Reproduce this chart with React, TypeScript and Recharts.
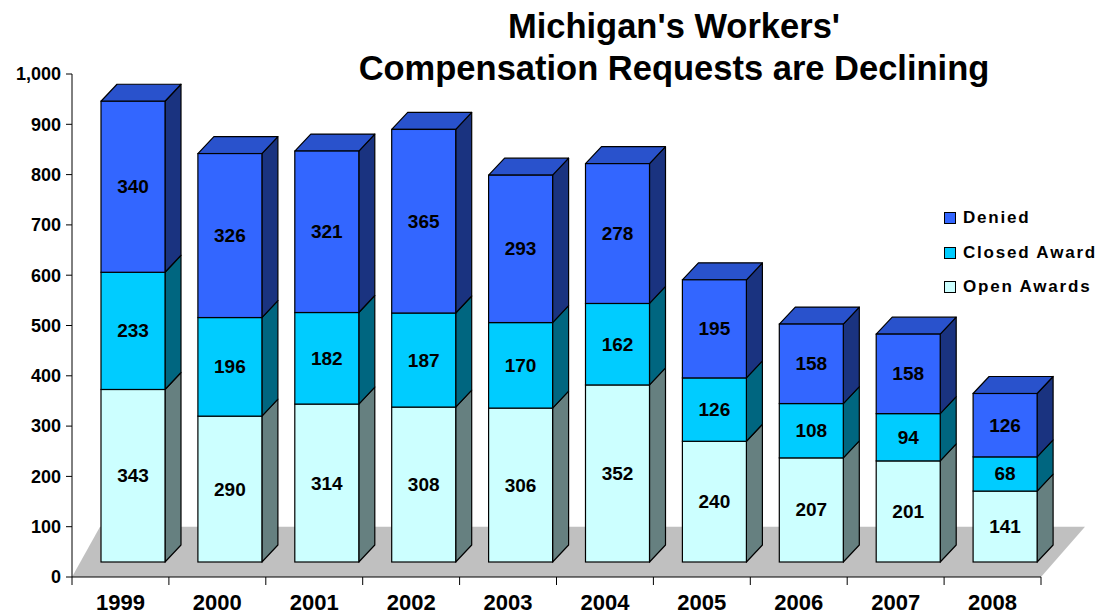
import React from 'react';
import { BarChart, Bar, XAxis, YAxis, ReferenceArea } from 'recharts';

const years = ['1999', '2000', '2001', '2002', '2003', '2004', '2005', '2006', '2007', '2008'];
const openAwards = [343, 290, 314, 308, 306, 352, 240, 207, 201, 141];
const closedAward = [233, 196, 182, 187, 170, 162, 126, 108, 94, 68];
const denied = [340, 326, 321, 365, 293, 278, 195, 158, 158, 126];
const yTicks = [0, 100, 200, 300, 400, 500, 600, 700, 800, 900, 1000];

const data = years.map((year, i) => ({
  year,
  open: openAwards[i],
  closed: closedAward[i],
  denied: denied[i],
}));

const FONT = "'Liberation Sans', Arial, Helvetica, sans-serif";
const W = 1102;
const H = 614;
const PLOT_LEFT = 72;
const PLOT_RIGHT = 61;
const BAND = (W - PLOT_LEFT - PLOT_RIGHT) / years.length;

// 3d look
const DX = 16;
const DY = -17;
const SHIFT_X = 13;
const SHIFT_Y = -15;

const series = [
  { key: 'open', name: 'Open Awards', front: '#CCFFFF', side: '#668080', top: '#A3CCCC' },
  { key: 'closed', name: 'Closed Award', front: '#00CCFF', side: '#006680', top: '#00A3CC' },
  { key: 'denied', name: 'Denied', front: '#3366FF', side: '#1A3380', top: '#2952CC' },
];

const make3D = (s: any, withTop: boolean) => (props: any) => {
  const { x, y, width, height, payload } = props;
  if (!height || height <= 0) return <g />;
  const fx = x + SHIFT_X;
  const fy = y + SHIFT_Y;
  const value = payload[s.key];
  return (
    <g>
      <polygon
        points={`${fx + width},${fy} ${fx + width + DX},${fy + DY} ${fx + width + DX},${fy + height + DY} ${fx + width},${fy + height}`}
        fill={s.side}
        stroke="#000"
        strokeWidth={1.2}
        strokeLinejoin="round"
      />
      {withTop && (
        <polygon
          points={`${fx},${fy} ${fx + DX},${fy + DY} ${fx + width + DX},${fy + DY} ${fx + width},${fy}`}
          fill={s.top}
          stroke="#000"
          strokeWidth={1.2}
          strokeLinejoin="round"
        />
      )}
      <rect x={fx} y={fy} width={width} height={height} fill={s.front} stroke="#000" strokeWidth={1.2} />
      <text
        x={fx + width / 2}
        y={fy + height / 2}
        textAnchor="middle"
        dominantBaseline="central"
        fontFamily={FONT}
        fontWeight="bold"
        fontSize={19}
        fill="#000"
      >
        {value}
      </text>
    </g>
  );
};

const Floor = (props: any) => {
  const { x, y, width, height } = props;
  return (
    <polygon
      points={`${x},${y + height} ${x + width},${y + height} ${x + width + 44},${y} ${x + 28},${y}`}
      fill="#C0C0C0"
      stroke="none"
    />
  );
};

const YearTick = (props: any) => {
  const { x, y, payload, index } = props;
  const half = BAND / 2;
  return (
    <g>
      {index === 0 && <line x1={x - half} y1={y - 8} x2={x - half} y2={y} stroke="#000" strokeWidth={1} />}
      <line x1={x + half} y1={y - 8} x2={x + half} y2={y} stroke="#000" strokeWidth={1} />
      <text x={x} y={y + 25} textAnchor="middle" fontFamily={FONT} fontWeight="bold" fontSize={22} fill="#000">
        {payload.value}
      </text>
    </g>
  );
};

export default function App() {
  return (
    <div style={{ position: 'relative', width: W, height: H, background: '#fff', fontFamily: FONT }}>
      <style>{'body{margin:0;}'}</style>
      <BarChart
        width={W}
        height={H}
        data={data}
        margin={{ top: 74, right: PLOT_RIGHT, left: 0, bottom: 0 }}
        barSize={64}
      >
        <XAxis
          dataKey="year"
          height={37}
          axisLine={{ stroke: '#000', strokeWidth: 1 }}
          tickLine={false}
          tickSize={8}
          tickMargin={0}
          tick={<YearTick />}
          interval={0}
        />
        <YAxis
          width={PLOT_LEFT}
          domain={[0, 1000]}
          ticks={yTicks}
          axisLine={{ stroke: '#000', strokeWidth: 1 }}
          tickLine={{ stroke: '#000', strokeWidth: 1 }}
          tickSize={6}
          tickMargin={5}
          tick={{ fontFamily: FONT, fontWeight: 'bold', fontSize: 18, fill: '#000' }}
          tickFormatter={(v: number) => v.toLocaleString('en-US')}
        />
        <ReferenceArea y1={0} y2={100} shape={<Floor />} ifOverflow="visible" />
        {series.map((s, i) => (
          <Bar
            key={s.key}
            dataKey={s.key}
            name={s.name}
            stackId="a"
            fill={s.front}
            shape={make3D(s, i === series.length - 1)}
            isAnimationActive={false}
          />
        ))}
      </BarChart>

      <div
        style={{
          position: 'absolute',
          left: 224,
          width: 900,
          top: 5,
          textAlign: 'center',
          fontWeight: 'bold',
          fontSize: 34.5,
          lineHeight: '42px',
          color: '#000',
          whiteSpace: 'nowrap',
        }}
      >
        Michigan's Workers'
        <br />
        Compensation Requests are Declining
      </div>

      <div style={{ position: 'absolute', left: 944, top: 201 }}>
        {[...series].reverse().map((s) => (
          <div key={s.key} style={{ display: 'flex', alignItems: 'center', height: 34.5 }}>
            <span
              style={{
                display: 'inline-block',
                width: 10,
                height: 10,
                background: s.front,
                border: '1px solid #000',
                marginRight: 7,
              }}
            />
            <span style={{ fontWeight: 'bold', fontSize: 17, letterSpacing: 1.8, color: '#000' }}>{s.name}</span>
          </div>
        ))}
      </div>
    </div>
  );
}
